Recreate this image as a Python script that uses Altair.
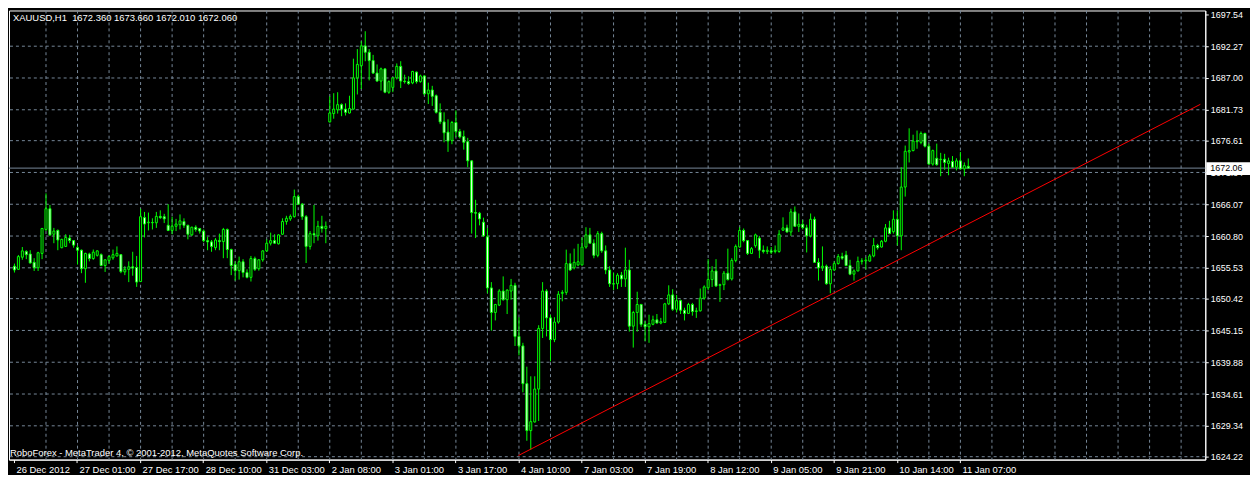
import json
import altair as alt
import pandas as pd

# ---------------- data ----------------
opens = [1655.80, 1655.28, 1657.29, 1658.24, 1657.82, 1656.44, 1655.54, 1657.92, 1661.89, 1665.33,
         1661.10, 1661.73, 1658.87, 1659.08, 1660.46, 1660.04, 1658.87, 1658.45, 1655.38, 1657.82,
         1657.07, 1657.60, 1657.71, 1655.91, 1656.76, 1657.18, 1657.50, 1657.71, 1654.85, 1655.28,
         1655.70, 1655.59, 1653.26, 1663.85, 1663.00, 1663.05, 1663.00, 1664.06, 1664.01, 1662.58,
         1661.73, 1662.42, 1662.68, 1663.21, 1662.58, 1660.99, 1662.26, 1662.05, 1661.62, 1660.04,
         1659.83, 1658.87, 1660.04, 1659.88, 1661.89, 1658.56, 1656.07, 1655.06, 1656.54, 1654.75,
         1653.95, 1657.07, 1655.38, 1656.86, 1658.34, 1659.61, 1660.04, 1659.51, 1661.10, 1663.21,
         1663.64, 1664.01, 1667.34, 1666.07, 1664.01, 1659.08, 1661.20, 1660.83, 1662.42, 1662.05,
         1679.72, 1681.10, 1681.73, 1682.58, 1681.84, 1681.20, 1681.84, 1687.02, 1689.04, 1692.32,
         1691.26, 1689.88, 1687.82, 1686.49, 1688.51, 1684.64, 1685.44, 1687.02, 1688.93, 1686.49,
         1686.39, 1686.18, 1687.98, 1686.39, 1687.34, 1684.38, 1685.01, 1684.06, 1681.31, 1679.72,
         1678.03, 1676.65, 1679.62, 1678.13, 1677.29, 1676.44, 1673.26, 1664.69, 1664.59, 1663.10,
         1660.67, 1652.20, 1648.13, 1649.35, 1651.68, 1650.25, 1651.68, 1652.63, 1644.16, 1642.58,
         1636.33, 1628.55, 1629.98, 1635.43, 1645.48, 1651.68, 1647.23, 1643.63, 1646.54, 1651.30,
         1651.46, 1656.23, 1655.54, 1656.01, 1656.01, 1658.98, 1660.99, 1659.61, 1657.60, 1661.20,
         1658.34, 1655.17, 1652.89, 1652.89, 1654.32, 1653.69, 1655.17, 1645.86, 1648.13, 1649.45,
         1646.17, 1645.75, 1646.17, 1646.91, 1646.38, 1646.49, 1649.56, 1651.04, 1648.66, 1650.09,
         1648.50, 1647.97, 1649.45, 1648.29, 1648.40, 1650.51, 1652.21, 1653.58, 1655.01, 1652.63,
         1652.73, 1654.64, 1653.69, 1656.76, 1658.98, 1661.73, 1660.04, 1657.92, 1659.19, 1660.46,
         1658.45, 1658.24, 1658.34, 1658.24, 1658.24, 1661.78, 1662.15, 1661.47, 1664.80, 1662.42,
         1662.74, 1662.15, 1660.83, 1663.58, 1656.44, 1655.54, 1655.80, 1652.89, 1655.17, 1656.23,
         1657.39, 1657.66, 1655.91, 1654.48, 1655.01, 1656.60, 1656.70, 1656.65, 1657.50, 1659.24,
         1658.98, 1659.93, 1662.15, 1661.52, 1663.58, 1660.83, 1668.92, 1674.74, 1674.96, 1676.44,
         1676.33, 1677.81, 1675.70, 1672.73, 1673.69, 1673.47, 1673.53, 1672.84, 1673.16, 1672.21,
         1673.26, 1671.94, 1672.36]
highs = [1656.23, 1657.66, 1658.98, 1658.45, 1658.45, 1657.13, 1658.19, 1662.15, 1667.87, 1665.96,
         1662.15, 1661.89, 1660.35, 1661.10, 1660.99, 1660.14, 1659.24, 1658.56, 1658.03, 1658.03,
         1658.56, 1658.45, 1657.92, 1656.97, 1657.60, 1658.56, 1659.08, 1657.82, 1655.80, 1656.60,
         1658.19, 1657.50, 1665.33, 1664.80, 1664.69, 1663.74, 1664.80, 1665.06, 1664.48, 1666.07,
         1664.01, 1663.64, 1664.38, 1663.74, 1662.68, 1662.36, 1662.58, 1662.15, 1661.89, 1660.67,
         1660.14, 1660.46, 1661.20, 1662.15, 1662.05, 1658.71, 1656.60, 1657.39, 1656.97, 1655.28,
         1657.50, 1657.39, 1656.97, 1658.45, 1660.25, 1661.36, 1661.10, 1661.10, 1663.74, 1664.16,
         1664.38, 1668.50, 1667.66, 1666.28, 1664.27, 1661.62, 1665.96, 1663.32, 1664.16, 1663.21,
         1683.96, 1684.48, 1684.64, 1682.79, 1682.79, 1684.06, 1690.20, 1691.79, 1693.11, 1694.75,
         1691.79, 1690.83, 1689.25, 1688.72, 1688.61, 1686.60, 1687.13, 1689.41, 1689.78, 1687.55,
         1687.29, 1688.19, 1688.08, 1687.55, 1687.45, 1686.23, 1685.70, 1684.27, 1682.79, 1681.31,
         1680.15, 1679.88, 1681.63, 1678.56, 1678.29, 1677.08, 1673.37, 1666.81, 1664.80, 1663.84,
         1662.15, 1653.16, 1649.56, 1651.99, 1654.11, 1651.99, 1653.69, 1653.05, 1647.34, 1643.10,
         1639.14, 1637.55, 1637.55, 1646.01, 1653.16, 1651.99, 1647.76, 1647.34, 1651.68, 1651.83,
         1658.55, 1657.92, 1658.71, 1659.51, 1660.56, 1662.26, 1662.15, 1660.25, 1661.62, 1661.52,
         1659.24, 1655.80, 1654.75, 1654.64, 1654.85, 1658.87, 1656.86, 1648.40, 1651.57, 1649.56,
         1646.70, 1647.76, 1647.60, 1647.87, 1647.23, 1649.72, 1652.63, 1651.99, 1651.04, 1650.25,
         1648.92, 1649.72, 1649.72, 1648.92, 1652.10, 1652.63, 1656.97, 1655.80, 1656.97, 1652.89,
         1655.01, 1658.71, 1657.13, 1659.40, 1662.26, 1662.05, 1660.14, 1658.98, 1661.20, 1660.83,
         1659.24, 1659.08, 1658.98, 1659.24, 1661.78, 1663.90, 1662.68, 1665.33, 1665.70, 1664.54,
         1663.48, 1662.68, 1664.54, 1664.01, 1657.13, 1659.08, 1656.07, 1655.80, 1656.60, 1657.81,
         1658.03, 1658.34, 1656.86, 1655.27, 1657.39, 1657.13, 1657.28, 1657.81, 1660.46, 1659.51,
         1660.14, 1662.79, 1663.32, 1665.06, 1665.06, 1672.21, 1675.80, 1678.66, 1677.60, 1678.29,
         1678.13, 1677.92, 1676.12, 1675.12, 1676.12, 1674.59, 1674.43, 1673.79, 1674.06, 1673.69,
         1674.74, 1673.00, 1673.66]
lows = [1654.75, 1655.17, 1656.86, 1656.97, 1656.23, 1655.01, 1655.01, 1656.97, 1661.62, 1660.83,
        1659.61, 1658.45, 1658.77, 1658.98, 1659.61, 1658.87, 1656.07, 1654.64, 1653.05, 1656.60,
        1656.86, 1657.39, 1655.80, 1654.85, 1656.23, 1656.86, 1657.39, 1654.64, 1654.32, 1653.16,
        1654.22, 1652.37, 1653.16, 1660.57, 1661.73, 1661.89, 1662.15, 1663.64, 1662.95, 1661.62,
        1661.10, 1661.62, 1661.89, 1662.15, 1660.25, 1660.83, 1661.52, 1661.20, 1659.77, 1658.45,
        1658.19, 1658.45, 1658.45, 1657.13, 1657.13, 1654.32, 1653.42, 1653.58, 1653.95, 1653.79,
        1653.26, 1655.01, 1655.06, 1656.54, 1658.19, 1659.24, 1659.51, 1659.40, 1660.99, 1662.68,
        1663.32, 1663.85, 1665.96, 1663.48, 1656.33, 1658.56, 1659.61, 1660.04, 1661.36, 1659.61,
        1679.62, 1680.25, 1681.10, 1680.67, 1680.78, 1681.10, 1681.73, 1684.27, 1685.17, 1689.78,
        1686.60, 1687.66, 1686.39, 1684.91, 1684.48, 1684.38, 1684.64, 1686.76, 1685.33, 1686.07,
        1685.86, 1685.97, 1686.07, 1686.23, 1684.11, 1682.69, 1682.37, 1681.10, 1679.35, 1676.34,
        1674.75, 1676.02, 1677.24, 1676.97, 1675.12, 1672.21, 1661.20, 1660.46, 1662.57, 1660.67,
        1651.30, 1645.11, 1646.81, 1649.19, 1650.09, 1647.87, 1650.25, 1642.58, 1641.01, 1634.90,
        1626.86, 1625.38, 1629.88, 1630.14, 1643.90, 1644.16, 1640.03, 1643.21, 1646.28, 1649.98,
        1651.04, 1655.01, 1655.27, 1655.80, 1655.91, 1658.71, 1659.51, 1657.12, 1657.28, 1658.02,
        1654.48, 1652.36, 1651.84, 1652.00, 1652.36, 1652.36, 1644.96, 1642.31, 1644.96, 1645.75,
        1643.37, 1643.10, 1646.01, 1646.28, 1646.17, 1646.38, 1649.35, 1648.40, 1648.13, 1647.87,
        1646.81, 1647.87, 1647.60, 1647.23, 1648.29, 1650.25, 1651.84, 1652.36, 1652.36, 1649.88,
        1651.84, 1653.42, 1653.42, 1656.44, 1658.87, 1659.77, 1657.66, 1657.81, 1658.87, 1657.13,
        1657.92, 1657.81, 1657.81, 1657.92, 1658.03, 1661.63, 1661.36, 1660.83, 1662.31, 1661.47,
        1661.89, 1658.08, 1660.57, 1656.33, 1653.42, 1655.01, 1652.73, 1651.31, 1655.01, 1656.07,
        1656.86, 1655.80, 1654.32, 1653.42, 1654.96, 1656.07, 1655.27, 1656.54, 1657.28, 1658.55,
        1658.87, 1659.77, 1661.10, 1661.20, 1659.24, 1658.45, 1667.34, 1673.00, 1674.85, 1675.27,
        1676.01, 1675.49, 1672.63, 1672.47, 1672.47, 1670.72, 1671.78, 1670.88, 1672.10, 1671.68,
        1671.78, 1670.72, 1672.01]
closes = [1655.17, 1657.39, 1658.34, 1657.71, 1656.33, 1655.54, 1658.03, 1662.05, 1665.33, 1660.99,
          1661.62, 1660.14, 1660.25, 1660.57, 1660.04, 1659.30, 1658.45, 1655.38, 1657.92, 1657.07,
          1658.13, 1658.34, 1655.91, 1656.86, 1657.39, 1657.71, 1657.92, 1654.90, 1655.28, 1655.70,
          1655.49, 1653.16, 1664.01, 1662.79, 1663.11, 1663.00, 1664.06, 1663.85, 1663.64, 1661.73,
          1662.42, 1662.79, 1663.32, 1662.58, 1661.10, 1662.26, 1661.89, 1661.62, 1660.04, 1659.83,
          1659.08, 1660.14, 1659.88, 1661.89, 1658.56, 1655.91, 1655.06, 1656.54, 1654.75, 1653.95,
          1657.07, 1655.28, 1656.86, 1658.34, 1659.61, 1660.04, 1659.61, 1660.99, 1663.21, 1663.74,
          1664.06, 1667.34, 1666.07, 1664.01, 1659.08, 1661.20, 1660.99, 1662.42, 1662.05, 1662.42,
          1681.20, 1681.84, 1682.58, 1681.84, 1681.31, 1681.94, 1687.02, 1689.25, 1692.32, 1691.26,
          1689.88, 1687.82, 1686.49, 1688.51, 1684.64, 1686.39, 1687.02, 1688.93, 1686.49, 1686.39,
          1686.07, 1688.08, 1686.39, 1687.34, 1684.38, 1685.01, 1683.96, 1681.31, 1679.72, 1677.92,
          1676.55, 1679.62, 1678.13, 1677.24, 1676.34, 1673.27, 1664.69, 1664.59, 1663.63, 1660.83,
          1652.20, 1648.13, 1649.45, 1651.68, 1650.25, 1651.83, 1652.63, 1644.16, 1642.58, 1636.33,
          1628.55, 1630.03, 1635.43, 1645.48, 1651.68, 1647.23, 1643.63, 1646.54, 1651.15, 1651.46,
          1656.23, 1655.17, 1656.44, 1656.54, 1658.98, 1660.99, 1659.61, 1657.60, 1661.20, 1658.34,
          1655.17, 1652.89, 1652.84, 1654.32, 1653.69, 1655.17, 1645.86, 1648.13, 1649.45, 1646.17,
          1645.75, 1646.28, 1646.91, 1646.38, 1646.60, 1649.56, 1651.04, 1648.66, 1650.09, 1648.50,
          1647.97, 1649.45, 1648.29, 1648.40, 1650.51, 1652.36, 1653.58, 1655.01, 1652.52, 1652.73,
          1654.64, 1653.58, 1656.76, 1659.08, 1661.73, 1660.04, 1657.92, 1658.71, 1660.99, 1658.45,
          1658.24, 1658.45, 1658.13, 1658.45, 1661.10, 1662.15, 1661.47, 1664.80, 1662.42, 1662.74,
          1662.21, 1660.83, 1663.58, 1656.44, 1655.54, 1655.80, 1652.89, 1655.27, 1656.23, 1657.39,
          1657.13, 1655.91, 1654.48, 1655.01, 1656.60, 1656.70, 1656.81, 1657.50, 1659.24, 1658.87,
          1659.93, 1662.15, 1661.20, 1663.58, 1660.83, 1668.92, 1674.85, 1674.96, 1676.54, 1676.54,
          1677.81, 1675.70, 1672.73, 1674.96, 1672.63, 1673.53, 1673.00, 1673.26, 1672.21, 1673.26,
          1671.94, 1672.47, 1672.06]

time_labels = ["26 Dec 2012", "27 Dec 01:00", "27 Dec 17:00", "28 Dec 10:00", "31 Dec 03:00",
               "2 Jan 08:00", "3 Jan 01:00", "3 Jan 17:00", "4 Jan 10:00", "7 Jan 03:00",
               "7 Jan 19:00", "8 Jan 12:00", "9 Jan 05:00", "9 Jan 21:00", "10 Jan 14:00",
               "11 Jan 07:00"]
bars_per_label = 16
bars_per_grid = 8
price_labels = [1697.54, 1692.27, 1687.00, 1681.73, 1676.61, 1671.34, 1666.07, 1660.80,
                1655.53, 1650.42, 1645.15, 1639.88, 1634.61, 1629.34, 1624.22]
trend_idx = [128, 301]
trend_price = [1624.42, 1682.63]
last_price = 1672.06
title_text = "XAUUSD,H1\u00a0\u00a01672.360 1673.660 1672.010 1672.060"
copyright_text = "RoboForex - MetaTrader 4, \u00a9 2001-2012, MetaQuotes Software Corp."

# ---------------- styling ----------------
GREEN = "#00FF00"
GRID = "#778899"
FONT = "Liberation Sans"
FS = 9.5
YFS = 9
X_DOMAIN = [0, 301]
Y_DOMAIN = [1623.74, 1698.19]
W, H = 1204, 452

n = len(opens)
df = pd.DataFrame({"i": list(range(n)), "open": opens, "high": highs,
                   "low": lows, "close": closes})
df["body_fill"] = ["#FFFFFF" if c < o else "#000000" for o, c in zip(opens, closes)]

label_idx = [bars_per_label * k for k in range(len(time_labels))]
grid_idx = list(range(bars_per_grid, X_DOMAIN[1], bars_per_grid))
label_lookup = json.dumps(time_labels)

xs = alt.Scale(domain=X_DOMAIN, nice=False, zero=False)
ys = alt.Scale(domain=Y_DOMAIN, nice=False, zero=False)


def x_axis():
    return alt.Axis(values=label_idx,
                    labelExpr=label_lookup + "[round(datum.value / " + str(bars_per_label) + ")]",
                    title=None, grid=False, labelAlign="left", labelBaseline="top",
                    labelOffset=2, labelPadding=2, tickSize=3, tickColor="white",
                    domainColor="white", labelColor="white", labelFont=FONT, labelFontSize=FS,
                    labelOverlap=False, labelFlush=False, labelBound=False)


def y_axis():
    return alt.Axis(values=price_labels, format=".2f", orient="right", title=None, grid=False,
                    labelAlign="left", labelBaseline="middle", labelPadding=2, tickSize=3,
                    tickColor="white", domainColor="white", labelColor="white", labelFont=FONT,
                    labelFontSize=YFS, labelOverlap=False, labelFlush=False, labelBound=False)


vgrid = alt.Chart(pd.DataFrame({"g": grid_idx})).mark_rule(
    color=GRID, strokeWidth=1, strokeDash=[3, 3], xOffset=0.5).encode(
    x=alt.X("g:Q", scale=xs, axis=x_axis()))
hgrid = alt.Chart(pd.DataFrame({"p": price_labels[1:]})).mark_rule(
    color=GRID, strokeWidth=1, strokeDash=[3, 3]).encode(
    y=alt.Y("p:Q", scale=ys, axis=y_axis()))
price_line = alt.Chart(pd.DataFrame({"p": [last_price]})).mark_rule(
    color=GRID, strokeWidth=1).encode(y=alt.Y("p:Q", scale=ys, axis=y_axis()))

wicks = alt.Chart(df).mark_rule(color=GREEN, strokeWidth=1, xOffset=0.5).encode(
    x=alt.X("i:Q", scale=xs, axis=x_axis()),
    y=alt.Y("low:Q", scale=ys, axis=y_axis()),
    y2="high:Q")
bodies = alt.Chart(df).mark_bar(width=2, stroke=GREEN, strokeWidth=1, xOffset=0.5).encode(
    x=alt.X("i:Q", scale=xs, axis=x_axis()),
    y=alt.Y("open:Q", scale=ys, axis=y_axis()),
    y2="close:Q",
    fill=alt.Fill("body_fill:N", scale=None))

trend = alt.Chart(pd.DataFrame({"x": [trend_idx[0]], "x2": [trend_idx[1]],
                                "y": [trend_price[0]], "y2": [trend_price[1]]})).mark_rule(
    color="#FF0000", strokeWidth=1).encode(
    x=alt.X("x:Q", scale=xs, axis=x_axis()), x2="x2:Q",
    y=alt.Y("y:Q", scale=ys, axis=y_axis()), y2="y2:Q")

title = alt.Chart(pd.DataFrame({"t": [title_text]})).mark_text(
    align="left", baseline="middle", color="white", font=FONT, fontSize=FS).encode(
    text="t:N", x=alt.value(4), y=alt.value(8))
copyright = alt.Chart(pd.DataFrame({"t": [copyright_text]})).mark_text(
    align="left", baseline="middle", color="white", font=FONT, fontSize=FS).encode(
    text="t:N", x=alt.value(1), y=alt.value(H - 7))

box = alt.Chart(pd.DataFrame({"p": [last_price]})).mark_rect(
    color="white", yOffset=-6, y2Offset=7).encode(
    x=alt.value(W + 1), x2=alt.value(W + 45),
    y=alt.Y("p:Q", scale=ys, axis=y_axis()), y2="p:Q")
box_text = alt.Chart(pd.DataFrame({"p": [last_price]})).mark_text(
    align="left", baseline="middle", color="black", font=FONT, fontSize=YFS).encode(
    x=alt.value(W + 5), y=alt.Y("p:Q", scale=ys, axis=y_axis()),
    text=alt.Text("p:Q", format=".2f"))

chart = alt.layer(vgrid, hgrid, price_line, wicks, bodies, trend, title, copyright,
                  box, box_text).properties(
    width=W, height=H,
    autosize=alt.AutoSizeParams(type="none"),
    padding={"left": 1, "top": 1, "right": 45, "bottom": 14},
    background="#000000",
).configure_view(stroke="white", strokeWidth=1, fill="#000000")

chart.save("out.html", embed_options={"renderer": "svg", "actions": False})
